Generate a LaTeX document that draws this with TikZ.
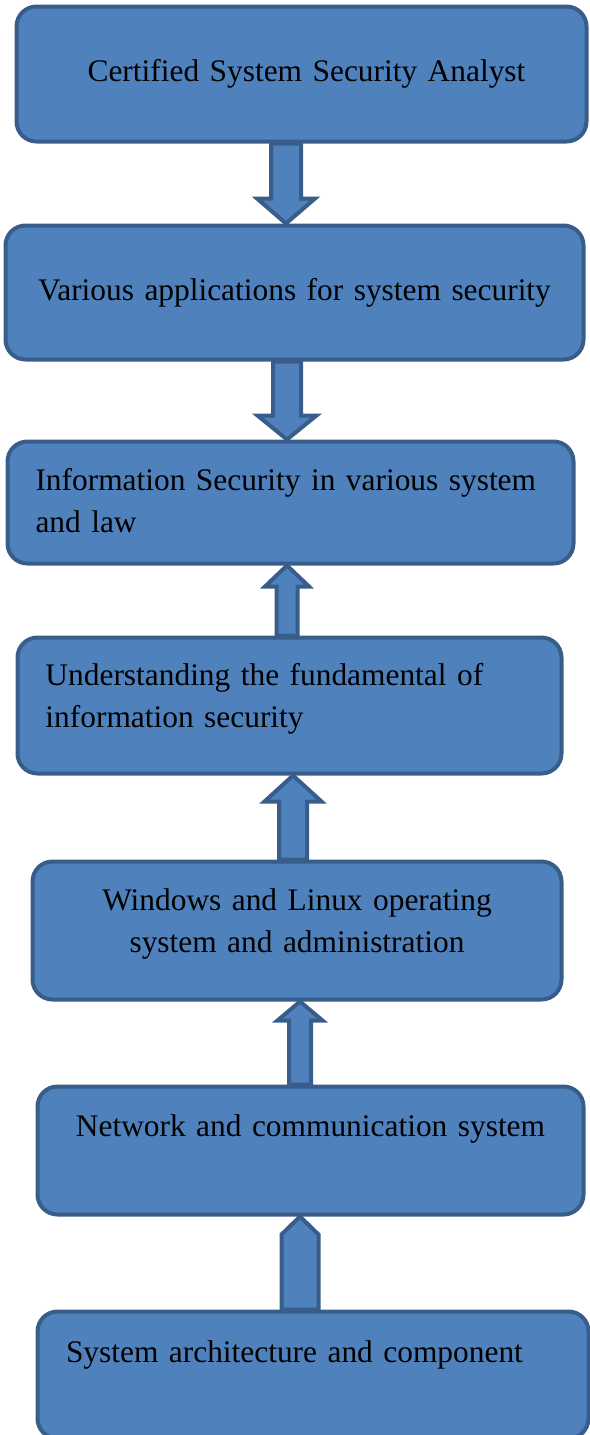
\documentclass[tikz,border=0pt]{standalone}
\usepackage{fontspec}
\setmainfont{Liberation Serif}
\usetikzlibrary{calc}
\definecolor{boxfill}{RGB}{79,129,189}
\definecolor{boxline}{RGB}{56,93,138}
\tikzstyle{stage} = [rectangle, rounded corners=10pt, draw=boxline,
                     fill=boxfill, line width=2pt, inner xsep=14pt,
                     inner ysep=0pt, text=black,
                     font=\fontsize{15.7}{21}\selectfont]
\tikzstyle{arrowbody} = [draw=boxline, fill=boxfill, line width=2pt]
% block arrow: tail, tip, half shaft, half head, head length
\newcommand{\flowarrow}[5]{%
  \draw[arrowbody] let \p1=(#1), \p2=(#2), \p3=($(#2)!#5!(#1)$) in
    (\x2-#3,\y1) -- (\x2-#3,\y3) -- (\x2-#4,\y3) -- (\x2,\y2)
    -- (\x2+#4,\y3) -- (\x2+#3,\y3) -- (\x2+#3,\y1) -- cycle;}

\begin{document}
\begin{tikzpicture}[x=0.5pt, y=-0.5pt]
    \useasboundingbox (0,0) rectangle (589,1435);

    \node (Stage1) [stage, inner xsep=0pt, minimum width=285pt, minimum height=67.5pt, text width=281pt, align=center] at (301.5,74) {\hspace*{5pt}Certified System Security Analyst};

    \node (Stage2) [stage, inner xsep=0pt, minimum width=289pt, minimum height=67pt, text width=285pt, align=center] at (294.5,292.5) {Various applications for system security};

    \node (Stage3) [stage, minimum width=283pt, minimum height=61pt, text width=255pt, align=left] at (290.5,502.5) {Information Security in various system\\and law\vspace{2pt}};

    \node (Stage4) [stage, minimum width=272pt, minimum height=68pt, text width=244pt, align=left] at (289.5,705.5) {Understanding the fundamental of\\information security\vspace{7pt}};

    \node (Stage5) [stage, inner xsep=0pt, minimum width=264.5pt, minimum height=69pt, text width=260pt, align=center] at (297,930.5) {Windows and Linux operating\\system and administration\vspace{7pt}};

    \node (Stage6) [stage, inner xsep=0pt, minimum width=273pt, minimum height=64pt, text width=269pt, align=center] at (310.5,1150.5) {Network and communication system\vspace{22pt}};

    \node (Stage7) [stage, minimum width=275.5pt, minimum height=63.5pt, text width=247pt, align=left] at (313,1375) {System architecture and component\vspace{20pt}};

    \coordinate (col1) at (286,0);
    \coordinate (col2) at (287,0);
    \coordinate (col3) at (287,0);
    \coordinate (col4) at (293,0);
    \coordinate (col5) at (300,0);
    \coordinate (col6) at (300,0);

    \flowarrow{Stage1.south -| col1}{Stage2.north -| col1}{7.5pt}{14.5pt}{12.5pt}
    \flowarrow{Stage2.south -| col2}{Stage3.north -| col2}{7pt}{14.75pt}{12pt}
    \flowarrow{Stage4.north -| col3}{Stage3.south -| col3}{5.25pt}{11pt}{10.5pt}
    \flowarrow{Stage5.north -| col4}{Stage4.south -| col4}{7pt}{14.25pt}{13pt}
    \flowarrow{Stage6.north -| col5}{Stage5.south -| col5}{5.5pt}{11.25pt}{9.5pt}
    \flowarrow{Stage7.north -| col6}{Stage6.south -| col6}{9.25pt}{9.25pt}{9pt}

\end{tikzpicture}
\end{document}
